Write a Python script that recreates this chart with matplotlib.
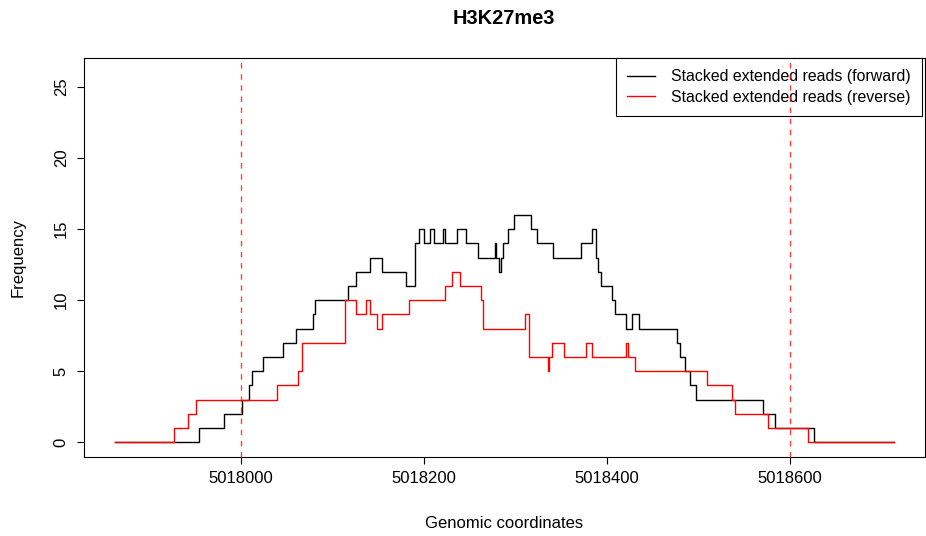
import matplotlib
matplotlib.use("Agg")
import matplotlib.pyplot as plt

plt.rcParams["font.family"] = ["Liberation Sans", "DejaVu Sans"]

# forward strand coverage: (start position, height); last entry closes the track
fwd_x = [5017862, 5017954, 5017981, 5018001, 5018008, 5018012, 5018024, 5018046,
         5018060, 5018079, 5018081, 5018117, 5018126, 5018141, 5018154, 5018180,
         5018190, 5018195, 5018200, 5018206, 5018211, 5018221, 5018223, 5018236,
         5018246, 5018259, 5018278, 5018279, 5018282, 5018284, 5018286, 5018292,
         5018298, 5018317, 5018324, 5018341, 5018372, 5018384, 5018388, 5018390,
         5018394, 5018406, 5018409, 5018421, 5018428, 5018435, 5018477, 5018480,
         5018485, 5018491, 5018497, 5018571, 5018584, 5018627, 5018714]
fwd_y = [0, 1, 2, 3, 4, 5, 6, 7,
         8, 9, 10, 11, 12, 13, 12, 11,
         14, 15, 14, 15, 14, 15, 14, 15,
         14, 13, 14, 13, 12, 13, 14, 15,
         16, 15, 14, 13, 14, 15, 13, 12,
         11, 10, 9, 8, 9, 8, 7, 6,
         5, 4, 3, 2, 1, 0, 0]

# reverse strand coverage
rev_x = [5017862, 5017926, 5017942, 5017950, 5018039, 5018062, 5018066, 5018114,
         5018126, 5018137, 5018141, 5018148, 5018154, 5018184, 5018223, 5018231,
         5018239, 5018262, 5018265, 5018310, 5018315, 5018336, 5018337, 5018340,
         5018353, 5018377, 5018384, 5018421, 5018423, 5018431, 5018509, 5018537,
         5018540, 5018576, 5018620, 5018714]
rev_y = [0, 1, 2, 3, 4, 5, 7, 10,
         9, 10, 9, 8, 9, 10, 11, 12,
         11, 10, 8, 9, 6, 5, 6, 7,
         6, 7, 6, 7, 6, 5, 4, 3,
         2, 1, 0, 0]

peak_bounds = [5018000, 5018600]
x_ticks = [5018000, 5018200, 5018400, 5018600]
y_ticks = [0, 5, 10, 15, 20, 25]

fig = plt.figure(figsize=(9.26, 5.36), dpi=100)
ax = fig.add_axes([84 / 926, 79 / 536, 841 / 926, 399 / 536])

ax.step(fwd_x, fwd_y, where="post", color="black", lw=1,
        label="Stacked extended reads (forward)")
ax.step(rev_x, rev_y, where="post", color="red", lw=1,
        label="Stacked extended reads (reverse)")

for b in peak_bounds:
    ax.axvline(b, color="red", alpha=0.75, lw=1, ls=(0, (4, 4)), zorder=6)

ax.set_xlim(5017828, 5018748)
ax.set_ylim(-1.04, 27.04)
ax.set_xticks(x_ticks)
ax.set_xticklabels([str(t) for t in x_ticks])
ax.set_yticks(y_ticks)
ax.set_yticklabels([str(t) for t in y_ticks], rotation=90, va="center")
ax.tick_params(labelsize=12, length=5, width=0.8)
ax.tick_params(axis="x", pad=5)
ax.tick_params(axis="y", pad=6)
for s in ax.spines.values():
    s.set_linewidth(0.8)

leg = ax.legend(loc="upper right", bbox_to_anchor=((922 - 84) / 841, 1),
                fontsize=11.4, frameon=True, fancybox=False,
                edgecolor="black", framealpha=1, borderaxespad=0,
                handlelength=1.8, borderpad=0.7, labelspacing=0.37,
                handletextpad=1.0)
leg.get_frame().set_linewidth(0.8)

fig.text(504 / 926, 1 - 18 / 536, "H3K27me3", ha="center", va="center",
         fontsize=14.4, fontweight="bold")
fig.text(504 / 926, 1 - 523 / 536, "Genomic coordinates", ha="center",
         va="center", fontsize=12)
fig.text(18 / 926, 1 - 257 / 536, "Frequency", ha="center", va="center",
         rotation=90, fontsize=12)

fig.savefig("out.png", dpi=100)
